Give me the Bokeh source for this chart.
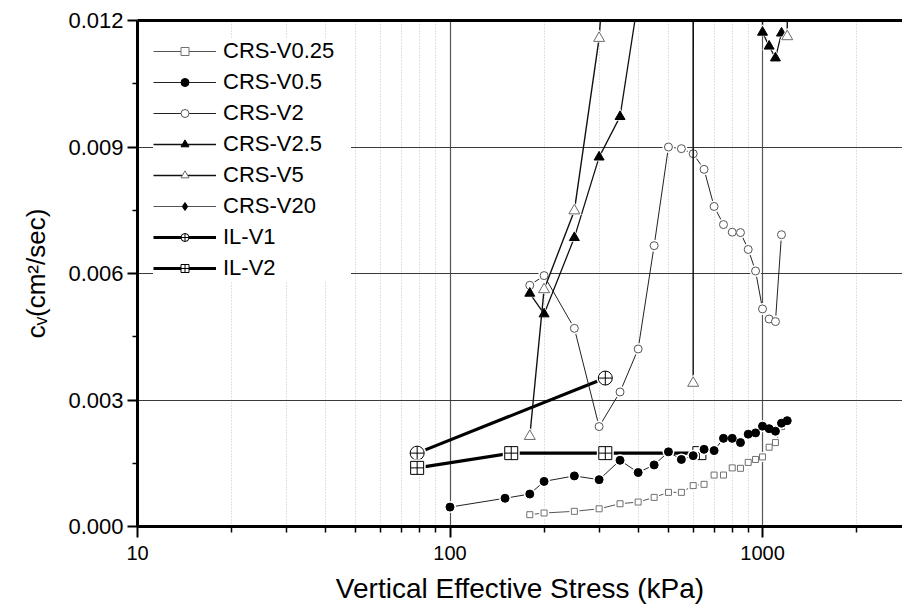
from bokeh.plotting import figure
from bokeh.models import (FixedTicker, PrintfTickFormatter, LogAxis, Legend,
                          LegendItem, ColumnDataSource)
from bokeh.embed import file_html
from bokeh.resources import INLINE

# ---------------- data ----------------
stress_v025 = [180, 200, 250, 300, 350, 400, 450, 500, 550, 600, 650, 700,
               750, 800, 850, 900, 950, 1000, 1050, 1100, 1150]
cv_v025 = [0.00028, 0.00032, 0.00036, 0.00042, 0.00054, 0.00058, 0.00069,
           0.00081, 0.00081, 0.00097, 0.00100, 0.00122, 0.00122, 0.00139,
           0.00138, 0.00152, 0.00159, 0.00165, 0.00188, 0.00199, 0.00237]

stress_v05 = [100, 150, 180, 200, 250, 300, 350, 400, 450, 500, 550, 600,
              650, 700, 750, 800, 850, 900, 950, 1000, 1050, 1100, 1150, 1200]
cv_v05 = [0.00046, 0.00067, 0.00077, 0.00107, 0.00120, 0.00111, 0.00157,
          0.00128, 0.00146, 0.00177, 0.00159, 0.00168, 0.00183, 0.00180,
          0.00209, 0.00209, 0.00199, 0.00219, 0.00222, 0.00238, 0.00232,
          0.00226, 0.00245, 0.00251]

stress_v2 = [180, 200, 250, 300, 350, 400, 450, 500, 550, 600, 650, 700,
             750, 800, 850, 900, 950, 1000, 1050, 1100, 1150]
cv_v2 = [0.00572, 0.00595, 0.00470, 0.00237, 0.00319, 0.00421, 0.00666,
         0.00900, 0.00896, 0.00884, 0.00847, 0.00759, 0.00716, 0.00698,
         0.00697, 0.00657, 0.00606, 0.00516, 0.00492, 0.00486, 0.00692]

# values above 0.012 lie outside the plotted window (estimated)
stress_v25 = [180, 200, 250, 300, 350, 400, 950, 1000, 1050, 1100, 1150]
cv_v25 = [0.00553, 0.00504, 0.00685, 0.00876, 0.00972, 0.0125, 1.0,
          0.01172, 0.01139, 0.01111, 0.01170]

stress_v5 = [180, 200, 250, 300, 350, 550, 600, 650, 1150, 1200]
cv_v5 = [0.00214, 0.00562, 0.00749, 0.01158, 0.0185, 1.0, 0.0034, 1.0,
         1.0, 0.01162]

# CRS-V20: no point of this series is visible inside the plotted window
stress_v20 = [float("nan")]
cv_v20 = [float("nan")]

stress_il1 = [78.5, 314]
cv_il1 = [0.00174, 0.00352]

stress_il2 = [78.5, 157, 314, 628]
cv_il2 = [0.00139, 0.00174, 0.00174, 0.00174]

x_ticks = [10, 100, 1000]
x_minor = [20, 30, 40, 50, 60, 70, 80, 90, 200, 300, 400, 500, 600, 700,
           800, 900, 2000]
y_ticks = [0.0, 0.003, 0.006, 0.009, 0.012]
y_minor = [0.0015, 0.0045, 0.0075, 0.0105]

FONT = "Liberation Sans"

p = figure(width=902, height=608, x_axis_type="log",
           x_range=(10, 2805), y_range=(0, 0.012),
           output_backend="svg", toolbar_location=None,
           min_border_left=137, min_border_right=0,
           min_border_top=20, min_border_bottom=82)
p.outline_line_color = None
p.background_fill_color = "white"
p.border_fill_color = "white"

# axes
xa = p.xaxis[0]
xa.ticker = FixedTicker(ticks=x_ticks, minor_ticks=x_minor)
xa.formatter = PrintfTickFormatter(format="%d")
xa.axis_line_width = 3
xa.major_tick_out = 11
xa.major_tick_in = 0
xa.minor_tick_out = 6
xa.minor_tick_in = 0
xa.major_tick_line_width = 2
xa.minor_tick_line_width = 1.5
xa.major_label_text_font = FONT
xa.major_label_text_font_size = "20px"
xa.major_label_text_color = "black"
xa.major_label_standoff = 8
xa.axis_label = "Vertical Effective Stress (kPa)"
xa.axis_label_text_font = FONT
xa.axis_label_text_font_size = "28px"
xa.axis_label_text_font_style = "normal"
xa.axis_label_text_color = "black"
xa.axis_label_standoff = 10

ya = p.yaxis[0]
ya.ticker = FixedTicker(ticks=y_ticks, minor_ticks=y_minor)
ya.formatter = PrintfTickFormatter(format="%.3f")
ya.axis_line_width = 3
ya.major_tick_out = 10
ya.major_tick_in = 0
ya.minor_tick_out = 5
ya.minor_tick_in = 0
ya.major_tick_line_width = 2
ya.minor_tick_line_width = 1.5
ya.major_label_text_font = FONT
ya.major_label_text_font_size = "22px"
ya.major_label_text_color = "black"
ya.major_label_standoff = 4
ya.axis_label = "c\u1d65(cm\u00b2/sec)"
ya.axis_label_text_font = FONT
ya.axis_label_text_font_size = "26px"
ya.axis_label_text_font_style = "normal"
ya.axis_label_text_color = "black"
ya.axis_label_standoff = 14

top = LogAxis(ticker=FixedTicker(ticks=[]), major_label_text_font_size="0px",
              axis_line_width=3, major_tick_out=0, minor_tick_out=0,
              major_tick_in=0, minor_tick_in=0)
p.add_layout(top, "above")

# grids
p.xgrid.grid_line_color = "#555555"
p.xgrid.grid_line_width = 1.2
p.xgrid.minor_grid_line_color = "#c4c4c4"
p.xgrid.minor_grid_line_dash = "1 2"
p.ygrid.grid_line_color = "#3a3a3a"
p.ygrid.grid_line_width = 1.2


def series(x, y, marker, size, fill, mline, lcolor, lwidth):
    src = ColumnDataSource(dict(x=x, y=y))
    r_line = p.line("x", "y", source=src, line_color=lcolor, line_width=lwidth)
    r_halo = p.scatter("x", "y", source=src, marker=marker, size=size + 4,
                       fill_color="white", line_color=None)
    r_mark = p.scatter("x", "y", source=src, marker=marker, size=size,
                       fill_color=fill, line_color=mline, line_width=1)
    return [r_line, r_halo, r_mark]


r_il1 = series(stress_il1, cv_il1, "circle_cross", 14, "white", "black", "black", 3.2)
r_il2 = series(stress_il2, cv_il2, "square_cross", 13, "white", "black", "black", 3.2)
r_v025 = series(stress_v025, cv_v025, "square", 6, "white", "#707070", "#555555", 1)
r_v05 = series(stress_v05, cv_v05, "circle", 8, "black", "black", "#222222", 1)
r_v2 = series(stress_v2, cv_v2, "circle", 8, "white", "#555555", "#222222", 1)
r_v25 = series(stress_v25, cv_v25, "triangle", 10, "black", "black", "#111111", 1.3)
r_v5 = series(stress_v5, cv_v5, "triangle", 11, "white", "#6a6a6a", "#111111", 1.4)
r_v20 = series(stress_v20, cv_v20, "diamond", 9, "black", "black", "#555555", 1)

legend = Legend(items=[
    LegendItem(label="CRS-V0.25", renderers=r_v025),
    LegendItem(label="CRS-V0.5", renderers=r_v05),
    LegendItem(label="CRS-V2", renderers=r_v2),
    LegendItem(label="CRS-V2.5", renderers=r_v25),
    LegendItem(label="CRS-V5", renderers=r_v5),
    LegendItem(label="CRS-V20", renderers=r_v20),
    LegendItem(label="IL-V1", renderers=r_il1),
    LegendItem(label="IL-V2", renderers=r_il2),
], location=(16, 245))
legend.glyph_width = 63
legend.glyph_height = 20
legend.label_height = 24
legend.label_width = 128
legend.label_standoff = 7
legend.spacing = 5
legend.padding = 16
legend.margin = 0
legend.border_line_color = None
legend.background_fill_color = "white"
legend.background_fill_alpha = 1.0
legend.label_text_font = FONT
legend.label_text_font_size = "22px"
legend.label_text_color = "black"
p.add_layout(legend, "center")

open("out.html", "w").write(file_html(p, INLINE))
